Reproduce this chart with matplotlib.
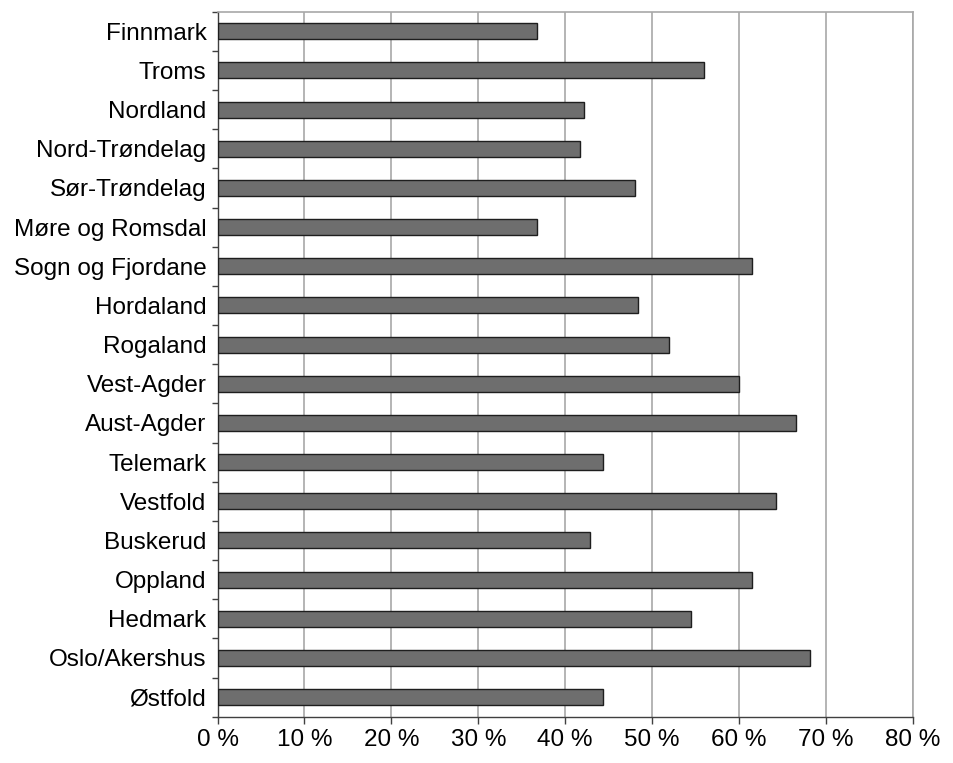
import matplotlib
matplotlib.use("Agg")
import matplotlib.pyplot as plt
import numpy as np

plt.rcParams['font.family'] = ['Liberation Sans', 'DejaVu Sans']

counties = ['Finnmark', 'Troms', 'Nordland', 'Nord-Trøndelag', 'Sør-Trøndelag',
            'Møre og Romsdal', 'Sogn og Fjordane', 'Hordaland', 'Rogaland',
            'Vest-Agder', 'Aust-Agder', 'Telemark', 'Vestfold', 'Buskerud',
            'Oppland', 'Hedmark', 'Oslo/Akershus', 'Østfold']
shares = [36.8, 56.0, 42.2, 41.7, 48.0, 36.8, 61.5, 48.4, 51.9,
          60.0, 66.6, 44.4, 64.2, 42.8, 61.5, 54.5, 68.2, 44.4]
xticks = [0, 10, 20, 30, 40, 50, 60, 70, 80]
xtick_labels = ['0 %', '10 %', '20 %', '30 %', '40 %', '50 %', '60 %', '70 %', '80 %']

fig = plt.figure(figsize=(9.54, 7.63), dpi=100)
ax = fig.add_axes([0.228, 0.0607, 0.729, 0.924])

pos = np.arange(len(counties))
ax.barh(pos, shares, height=0.41, color='#6e6e6e', edgecolor='#1e1e1e', linewidth=1.0, zorder=3)

ax.set_xlim(0, 80)
ax.set_ylim(len(counties) - 0.5, -0.5)
ax.set_xticks(xticks)
ax.set_xticklabels(xtick_labels, fontsize=17.5)
ax.set_yticks(pos)
ax.set_yticklabels(counties, fontsize=17.5)
ax.set_yticks(np.arange(len(counties) + 1) - 0.5, minor=True)

ax.tick_params(axis='y', which='major', length=0, pad=8)
ax.tick_params(axis='y', which='minor', length=4, width=1, color='#404040', direction='out')
ax.tick_params(axis='x', which='major', length=5, width=1, color='#404040', direction='out', pad=4)

ax.grid(axis='x', color='#a8a8a8', linewidth=1.2, zorder=0)
for side in ['top', 'right']:
    ax.spines[side].set_color('#a8a8a8')
    ax.spines[side].set_linewidth(1.2)
for side in ['left', 'bottom']:
    ax.spines[side].set_color('#404040')
    ax.spines[side].set_linewidth(1.0)

fig.savefig('out.png', dpi=100)
